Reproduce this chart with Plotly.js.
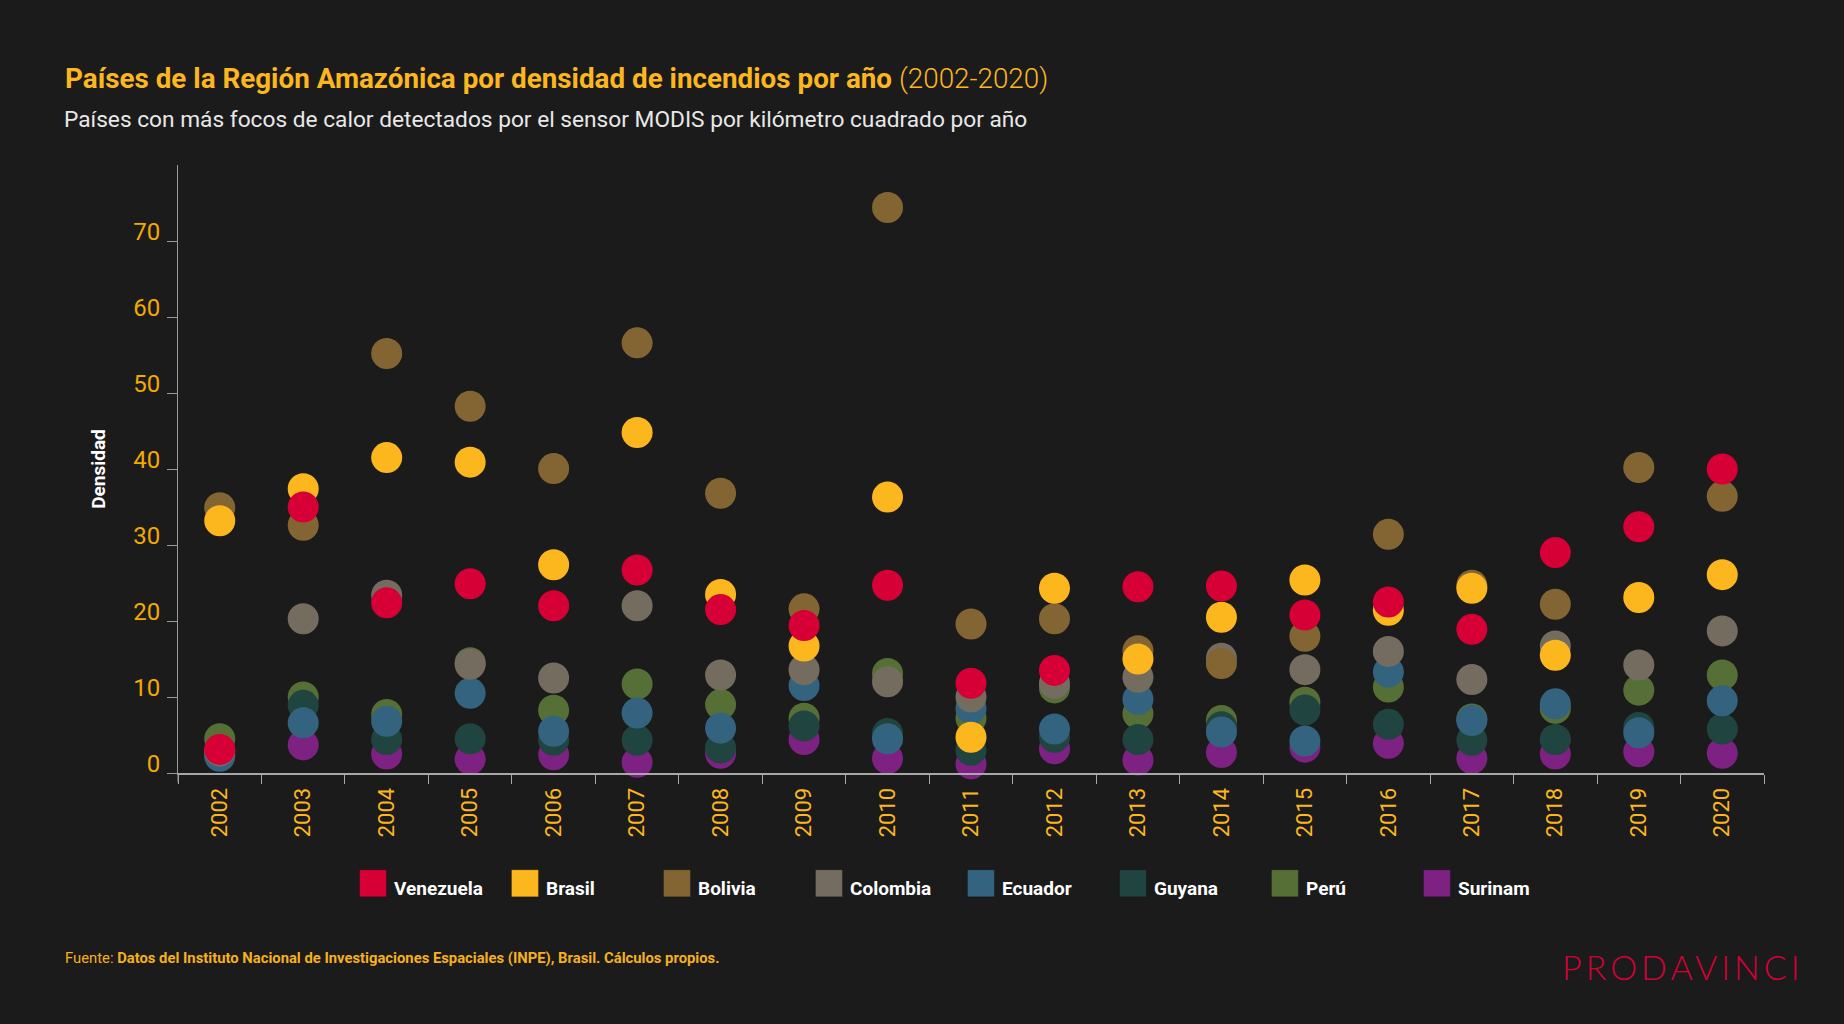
<!DOCTYPE html>
<html><head><meta charset="utf-8">
<script src="https://cdn.plot.ly/plotly-3.0.1.min.js"></script>
<style>
html,body{margin:0;padding:0;background:#1b1b1b;}
#chart{width:1844px;height:1024px;}
.annotation[data-index="0"] .annotation-text{letter-spacing:4px;}
</style></head><body><div id="chart"></div>
<script>
// ---------------- DATA ----------------
const years = ['2002','2003','2004','2005','2006','2007','2008','2009','2010','2011','2012','2013','2014','2015','2016','2017','2018','2019','2020'];
const countries = ['Venezuela','Brasil','Bolivia','Colombia','Ecuador','Guyana','Perú','Surinam'];
const venezuela = [3.1,35.0,22.4,24.9,22.0,26.7,21.5,19.4,24.7,11.8,13.5,24.5,24.6,20.8,22.5,18.9,29.0,32.4,40.0];
const brasil    = [33.2,37.4,41.5,40.9,27.4,44.8,23.5,16.7,36.3,4.7,24.3,15.0,20.5,25.4,21.4,24.3,15.5,23.1,26.1];
const bolivia   = [34.9,32.6,55.2,48.25,40.05,56.6,36.8,21.6,74.4,19.6,20.3,16.1,14.4,18.0,31.4,24.7,22.2,40.2,36.4];
const colombia  = [2.9,20.3,23.4,14.3,12.5,22.0,12.9,13.6,12.0,10.0,11.8,12.6,15.1,13.6,16.0,12.3,16.7,14.2,18.7];
const ecuador   = [2.2,6.6,6.8,10.5,5.5,7.9,5.9,11.5,4.5,8.5,5.8,9.7,5.4,4.2,13.3,6.9,9.1,5.3,9.5];
const guyana    = [2.5,8.9,4.4,4.5,4.3,4.3,3.3,6.2,5.2,3.0,4.7,4.4,6.1,8.3,6.4,4.3,4.4,6.0,5.8];
const peru      = [4.5,10.0,7.7,14.5,8.25,11.7,9.0,7.2,13.1,7.2,11.2,7.8,6.9,9.3,11.3,7.1,8.5,10.9,12.9];
const surinam   = [2.3,3.7,2.5,1.8,2.4,1.4,2.6,4.4,1.9,1.2,3.2,1.7,2.7,3.4,3.9,1.9,2.5,2.8,2.6];
const yTicks = [0,10,20,30,40,50,60,70];

const series = [venezuela, brasil, bolivia, colombia, ecuador, guyana, peru, surinam];
const colors = ['#D60036','#FDB71E','#836533','#756C60','#33637F','#204540','#566F36','#7D2183'];

// ---------------- LAYOUT HELPERS ----------------
const W = 1844, H = 1024;
const L = 177.5, R = 1763.6, T = 164.7, B = 772.7;
const px = x => (x - L) / (R - L);
const py = y => (B - y) / (B - T);

// traces: drawn in reverse legend order (Surinam at bottom, Venezuela on top)
const traces = [];
for (let i = countries.length - 1; i >= 0; i--) {
  traces.push({
    type: 'scatter', mode: 'markers', name: countries[i],
    x: years, y: series[i],
    cliponaxis: false, showlegend: false,
    marker: {size: 31, color: colors[i], line: {width: 0}},
    hovertemplate: countries[i] + ' %{x}: %{y}<extra></extra>'
  });
}

const annotations = [];
const shapes = [];

// logo (index 0 -> letter-spacing via CSS)
annotations.push({
  text: 'PRODAVINCI', xref: 'paper', yref: 'paper', x: px(1560), y: py(966.5),
  xanchor: 'left', yanchor: 'middle', align: 'left', showarrow: false,
  font: {family: 'Lato', size: 34, weight: 300, color: '#D60036'}
});
// subtitle
annotations.push({
  text: 'Países con más focos de calor detectados por el sensor MODIS por kilómetro cuadrado por año',
  xref: 'paper', yref: 'paper', x: px(61), y: py(119), xanchor: 'left', yanchor: 'middle',
  align: 'left', showarrow: false,
  font: {family: 'Roboto', size: 22.7, color: '#E8E8E8'}
});
// source
annotations.push({
  text: 'Fuente: <b>Datos del Instituto Nacional de Investigaciones Espaciales (INPE), Brasil. Cálculos propios.</b>',
  xref: 'paper', yref: 'paper', x: px(62), y: py(958), xanchor: 'left', yanchor: 'middle',
  align: 'left', showarrow: false,
  font: {family: 'Roboto', size: 14.8, color: '#F5B01E'}
});
// custom legend (large squares)
countries.forEach((c, i) => {
  const x0 = 359 + 152 * i;
  shapes.push({
    type: 'rect', xref: 'paper', yref: 'paper',
    x0: px(x0), x1: px(x0 + 27), y0: py(896.5), y1: py(869.5),
    fillcolor: colors[i], line: {width: 1, color: 'rgba(0,0,0,0.25)'}
  });
  annotations.push({
    text: '<b>' + c + '</b>', xref: 'paper', yref: 'paper', x: px(x0 + 33), y: py(888.5),
    xanchor: 'left', yanchor: 'middle', showarrow: false,
    font: {family: 'Roboto', size: 19, color: '#FFFFFF'}
  });
});
// y-axis line extension below x axis
shapes.push({type: 'line', xref: 'paper', yref: 'paper', x0: 0, x1: 0, y0: py(782), y1: 0,
  line: {color: '#9a9a9a', width: 1}});

const layout = {
  width: W, height: H,
  paper_bgcolor: '#1b1b1b', plot_bgcolor: '#1b1b1b',
  margin: {l: L, r: W - R, t: T, b: H - B, pad: 0},
  showlegend: false,
  title: {
    text: '<b>Países de la Región Amazónica por densidad de incendios por año</b> <span style="font-weight:300">(2002-2020)</span>',
    xref: 'container', yref: 'container', x: 65 / W, xanchor: 'left',
    y: 1 - 77.8 / H, yanchor: 'middle',
    font: {family: 'Roboto', size: 27.8, color: '#FDB71E'}
  },
  xaxis: {
    type: 'category', range: [-0.5, 18.5], fixedrange: true,
    showline: true, linecolor: '#a8a8a8', linewidth: 2,
    ticks: 'outside', tickson: 'boundaries', ticklen: 9, tickwidth: 1, tickcolor: '#a8a8a8',
    tickangle: -90, showgrid: false, zeroline: false, ticklabelstandoff: 4,
    tickfont: {family: 'Roboto', size: 22, color: '#FDB71E'}
  },
  yaxis: {
    range: [0, 80], fixedrange: true, tickvals: yTicks,
    showline: true, linecolor: '#9a9a9a', linewidth: 1,
    ticks: 'outside', ticklen: 10, tickwidth: 1, tickcolor: '#9a9a9a',
    showgrid: false, zeroline: false, ticklabelshift: -9, ticklabelstandoff: 2,
    tickfont: {family: 'Roboto', size: 24, color: '#F2A900'},
    title: {text: '<b>Densidad</b>', standoff: 22, font: {family: 'Roboto', size: 19, color: '#FFFFFF'}}
  },
  annotations: annotations,
  shapes: shapes
};

Plotly.newPlot('chart', traces, layout, {displayModeBar: false, staticPlot: false});
</script>
</body></html>
